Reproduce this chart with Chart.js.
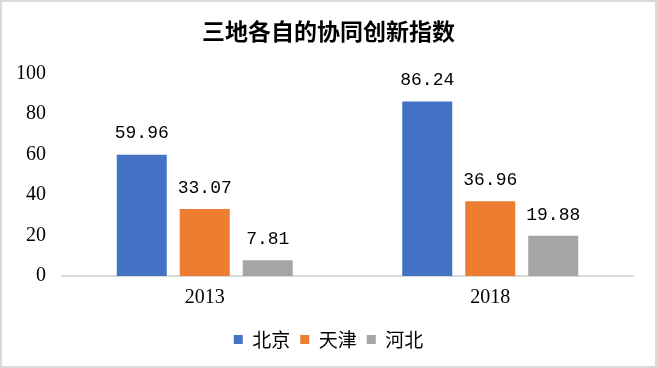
<!DOCTYPE html>
<html>
<head>
<meta charset="utf-8">
<script src="https://cdn.jsdelivr.net/npm/chart.js@4/dist/chart.umd.min.js"></script>
<style>
  body { margin: 0; background: #fff; }
  #wrap { position: relative; width: 657px; height: 368px; }
  #frame {
    position: absolute; left: 0; top: 0; width: 657px; height: 368px;
    box-sizing: border-box; border: 2px solid #d9d9d9; pointer-events: none;
  }
</style>
</head>
<body>
<div id="wrap">
  <canvas id="myChart"></canvas>
  <div id="frame"></div>
</div>
<script>
//Chart data
const years = ["2013", "2018"];
const beijing = [59.96, 86.24];
const tianjin = [33.07, 36.96];
const hebei = [7.81, 19.88];
const yTicks = [0, 20, 40, 60, 80, 100];

const serif = "'Liberation Serif', 'Noto Sans CJK SC', serif";
const cjk = "'Noto Sans CJK SC', sans-serif";

//Value labels above each bar
const valueLabels = {
  id: "valueLabels",
  afterDatasetsDraw(chart) {
    const ctx = chart.ctx;
    ctx.save();
    ctx.font = "18px 'Liberation Mono', monospace";
    ctx.fillStyle = "#000";
    ctx.textAlign = "center";
    ctx.textBaseline = "middle";
    chart.data.datasets.forEach((ds, i) => {
      const meta = chart.getDatasetMeta(i);
      meta.data.forEach((bar, j) => {
        ctx.fillText(ds.data[j].toFixed(2), bar.x, bar.y - 21);
      });
    });
    ctx.restore();
  },
};

var ctx = document.getElementById("myChart").getContext("2d");
var chart = new Chart(ctx, {
  type: "bar",
  data: {
    labels: years,
    datasets: [
      { label: "北京", data: beijing, backgroundColor: "#4472C4" },
      { label: "天津", data: tianjin, backgroundColor: "#ED7D31" },
      { label: "河北", data: hebei, backgroundColor: "#A5A5A5" },
    ],
  },
  options: {
    responsive: true,
    maintainAspectRatio: false,
    animation: false,
    categoryPercentage: 0.662,
    barPercentage: 0.794,
    layout: { padding: { left: 0, right: 0, top: 0, bottom: 9 } },
    plugins: {
      title: {
        display: true,
        text: "三地各自的协同创新指数",
        color: "#000",
        font: { family: cjk, size: 23, weight: "bold" },
        padding: { top: 17, bottom: 29 },
      },
      legend: {
        position: "bottom",
        labels: {
          color: "#000",
          boxWidth: 9,
          boxHeight: 9,
          padding: 10,
          font: { family: cjk, size: 19 },
        },
      },
      tooltip: { enabled: false },
    },
    scales: {
      x: {
        grid: { display: false, drawTicks: false },
        border: { display: true, color: "#d9d9d9", width: 2 },
        ticks: { color: "#000", padding: 12, font: { family: serif, size: 20, lineHeight: 1 } },
      },
      y: {
        min: 0,
        max: 100,
        grid: { display: false, drawTicks: false },
        border: { display: false },
        afterBuildTicks: (axis) => {
          axis.ticks = yTicks.map((v) => ({ value: v }));
        },
        afterFit: (axis) => {
          axis.width = 62;
        },
        ticks: { color: "#000", padding: 16, font: { family: serif, size: 20 } },
      },
      // empty right axis, only to keep space on the right
      yRight: {
        position: "right",
        min: 0,
        max: 100,
        grid: { display: false, drawTicks: false },
        border: { display: false },
        ticks: { display: false },
        afterFit: (axis) => {
          axis.width = 24;
        },
      },
    },
  },
  plugins: [valueLabels],
});
</script>
</body>
</html>
